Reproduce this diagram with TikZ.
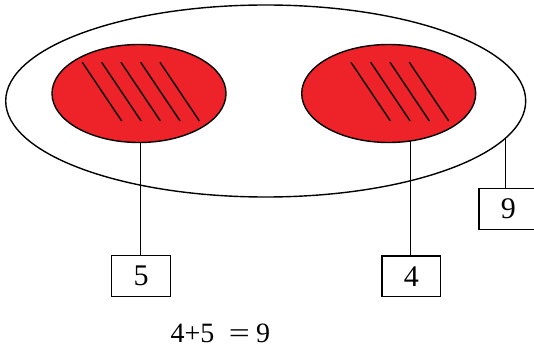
\documentclass[tikz,border=0pt]{standalone}
\usepackage{fontspec}
\setmainfont{Liberation Serif}
\usetikzlibrary{shapes.geometric}
\definecolor{redfill}{HTML}{EE2229}
\tikzset{
  outerring/.style={ellipse, draw=black, line width=1.4pt, inner sep=0pt, minimum width=520pt, minimum height=192pt},
  redset/.style={ellipse, draw=black, fill=redfill, line width=1.4pt, inner sep=0pt, minimum width=174pt, minimum height=98pt},
  hatch/.style={line width=1.4pt, black},
  numbox/.style={draw=black, line width=1.4pt, inner sep=0pt, minimum width=58.5pt, minimum height=40.5pt, font=\fontsize{30}{32}\selectfont},
  conn/.style={line width=1.4pt, black},
  eqn/.style={inner sep=0pt, anchor=base west, font=\fontsize{28}{30}\selectfont}
}
\begin{document}
\begin{tikzpicture}[x=1pt,y=-1pt]
\useasboundingbox (0,0) rectangle (534,352);
\clip (0,0) rectangle (534,352);
\node[outerring] (outer) at (265.7,101) {};
\node[numbox] (b5) at (141,276) {5};
\node[numbox] (b4) at (411.3,276.4) {4};
\node[numbox] (b9) at (508.3,209) {9};
\coordinate (t9) at (505.7,138.2);
\draw[conn] ([xshift=-0.6pt]b5.north) -- ([xshift=-0.6pt]b5.north |- 0,130);
\draw[conn] ([xshift=-1pt]b4.north) -- ([xshift=-1pt]b4.north |- 0,130);
\draw[conn] (b9.north -| t9) -- (t9);
\node[redset] (redL) at (139,93.5) {};
\node[redset] (redR) at (388.7,93.5) {};
\foreach \x in {82.3,101.7,121,140.7,160}
  \draw[hatch] (\x,62.3) -- (\x+39.4,121);
\foreach \x in {351,370.7,390,409.3}
  \draw[hatch] (\x,62.3) -- (\x+39.4,121);
\node[eqn] (eq) at (170.5,342.7) {4+5\hspace{14.4pt}\scalebox{1.33}[1]{=}\hspace{6.2pt}9};
\end{tikzpicture}
\end{document}
